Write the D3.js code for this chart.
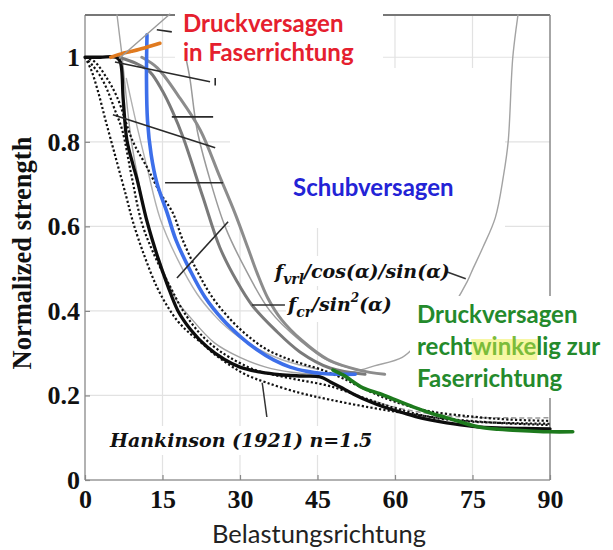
<!DOCTYPE html>
<html><head><meta charset="utf-8">
<script src="https://cdn.jsdelivr.net/npm/d3@7"></script>
<style>body{margin:0;background:#fff}</style>
</head><body>
<svg id="c" width="613" height="550"></svg>
<script>
// ---------- data (angle in degrees, normalized strength) ----------
const xTicks = [0, 15, 30, 45, 60, 75, 90];
const yTicks = [0, 0.2, 0.4, 0.6, 0.8, 1];
const yTickLabels = ["0", "0.2", "0.4", "0.6", "0.8", "1"];

const fvrlCurve = [[6.2,1.1],[6.7,1.05],[7.2,1.0],[8.2,0.88],[9,0.8],[10,0.73],[12,0.61],[15,0.5],[18,0.42],[20,0.39],[25,0.325],[30,0.29],[35,0.267],[40,0.255],[45,0.25],[50,0.253],[52.6,0.258],[56,0.27],[61.4,0.29],[65,0.33],[70,0.39],[74,0.47],[75.1,0.5],[77,0.55],[79.4,0.62],[81,0.72],[81.9,0.8],[82.8,1.0],[83.8,1.1]];
const fcrCurveA = [[6.5,1.0],[10,0.985],[12.6,0.965],[15,0.92],[17,0.87],[19,0.81],[22.8,0.67],[26.1,0.55],[29.4,0.47],[32.3,0.414],[36.8,0.355],[41.6,0.303],[47.4,0.265],[54.2,0.25]];
const fcrCurveB = [[11,1.0],[14,0.975],[18,0.91],[22.3,0.828],[26,0.72],[29,0.632],[31.5,0.55],[33.3,0.49],[35.4,0.43],[38,0.38],[42,0.33],[47,0.285],[53,0.26],[58,0.25]];
const thinGrayA = [[19.5,1.0],[20.3,0.95],[21.7,0.828],[24.2,0.71],[27.1,0.6],[31,0.5],[35.8,0.4],[41.6,0.33],[47.4,0.28],[53.2,0.26]];
const thinGrayB = [[8,0.95],[10,0.84],[12,0.74],[14.5,0.62],[18,0.52],[21.7,0.44],[25,0.39],[27.5,0.36],[32,0.32],[38,0.285],[45,0.262]];
const hankinsonA = [[0,1],[1.2,0.97],[2.5,0.92],[4,0.85],[6,0.76],[8,0.67],[9.3,0.61],[11.5,0.53],[13.9,0.457],[16,0.41],[18,0.375],[20,0.35],[22.5,0.325],[24.8,0.3],[28,0.272],[31,0.25],[35.2,0.23],[41.6,0.206],[47.4,0.19],[55,0.172],[62,0.158],[70,0.145],[80,0.135],[90,0.13]];
const hankinsonB = [[0,1],[1.5,0.98],[3,0.955],[4.3,0.923],[5.8,0.875],[7.2,0.828],[9,0.72],[11,0.608],[13.5,0.53],[16.5,0.457],[19,0.4],[22,0.35],[25,0.315],[28,0.29],[33,0.26],[40,0.24],[47.4,0.222],[55,0.19],[60,0.17],[66.8,0.149],[75,0.138],[90,0.133]];
const hankinsonC = [[0,1],[1.9,0.989],[4,0.955],[6.2,0.906],[9.3,0.8],[12,0.74],[14.5,0.68],[17,0.632],[18.9,0.568],[21.6,0.497],[24.6,0.433],[28.2,0.379],[31.6,0.34],[35,0.31],[38.5,0.29],[42,0.275],[45.5,0.262],[50,0.24],[55,0.21],[60,0.185],[67,0.162],[75,0.15],[82,0.143],[90,0.14]];
const grayDashed = [[55,0.19],[60,0.172],[65,0.16],[70,0.152],[75,0.148],[82,0.147],[90,0.147]];
const modelCurve = [[0,1],[3,1],[6,1],[6.8,0.99],[7.4,0.9],[8.1,0.805],[9.3,0.745],[10.1,0.71],[12,0.612],[14,0.53],[16,0.46],[18,0.4],[20.5,0.355],[23.6,0.315],[27,0.285],[30,0.267],[34,0.255],[37.7,0.249],[42,0.246],[45.5,0.244],[47.5,0.232],[49.4,0.22],[52,0.203],[55.2,0.185],[58,0.172],[61.5,0.159],[64,0.15],[66.8,0.142],[70,0.135],[75,0.127],[80,0.123],[85,0.122],[90,0.121]];
const shearCurve = [[12.0,1.053],[11.9,0.95],[12.1,0.85],[12.8,0.77],[13.9,0.703],[15.9,0.632],[17.6,0.568],[20.3,0.497],[23.2,0.433],[26.7,0.379],[30,0.34],[33.3,0.308],[36.5,0.284],[39.7,0.267],[43,0.257],[46,0.252],[49,0.25],[52.3,0.25]];
const compParallel = [[5.0,1.0],[7,1.008],[9,1.014],[11.5,1.022],[14.5,1.033]];
const compPerp = [[48,0.26],[50,0.248],[53.8,0.218],[57.1,0.204],[60,0.19],[63.5,0.173],[67,0.158],[70.1,0.147],[73,0.136],[76.5,0.125],[80,0.12],[82.8,0.118],[86,0.116],[90,0.114],[94.4,0.114]];
// straight hatch segments [a1, v1, a2, v2]
const hatchDark = [[5.8,0.989,24.2,0.942],[5.4,0.864,25.2,0.786],[16.8,0.859,24.8,0.859],[15.5,0.703,26.7,0.703],[17.8,0.478,27.7,0.611],[13.9,1.065,16.8,1.06],[25.2,0.951,25.2,0.933]];
const hatchGray = [[6.6,0.997,16.5,1.103]];
const leaders = [[34.3,0.23,35.2,0.149],[32.3,0.414,38.7,0.414],[70.1,0.492,73.7,0.476]];

// ---------- layout ----------
const svg = d3.select("#c");
const x = d3.scaleLinear().domain([0, 90]).range([85, 550]);
const y = d3.scaleLinear().domain([0, 1.1]).range([480, 15]);
const line = d3.line().x(d => x(d[0])).y(d => y(d[1])).curve(d3.curveCatmullRom.alpha(0.5));

// grid
const grid = svg.append("g").attr("stroke", "#e2e2e2").attr("stroke-width", 1.2);
grid.selectAll(".gv").data(xTicks.slice(1, -1)).join("line")
  .attr("x1", d => x(d)).attr("x2", d => x(d)).attr("y1", y(0)).attr("y2", y(1.1));
grid.selectAll(".gh").data(yTicks.slice(1)).join("line")
  .attr("y1", d => y(d)).attr("y2", d => y(d)).attr("x1", x(0)).attr("x2", x(90));

// frame
svg.append("line").attr("x1", x(0)).attr("x2", x(0)).attr("y1", y(0)).attr("y2", y(1.1)).attr("stroke", "#999").attr("stroke-width", 1.5);
svg.append("line").attr("x1", x(0)).attr("x2", x(90)).attr("y1", y(0)).attr("y2", y(0)).attr("stroke", "#999").attr("stroke-width", 1.5);
svg.append("line").attr("x1", x(0)).attr("x2", x(90)).attr("y1", y(1.1)).attr("y2", y(1.1)).attr("stroke", "#777").attr("stroke-width", 2);
svg.append("line").attr("x1", x(90)).attr("x2", x(90)).attr("y1", y(0)).attr("y2", y(1.1)).attr("stroke", "#888").attr("stroke-width", 1.5);

// axes (inward ticks)
const xAxis = svg.append("g").attr("transform", `translate(0,${y(0)})`)
  .call(d3.axisBottom(x).tickValues(xTicks).tickSizeInner(-5).tickSizeOuter(0).tickPadding(10).tickFormat(d3.format("d")));
const yAxis = svg.append("g").attr("transform", `translate(${x(0)},0)`)
  .call(d3.axisLeft(y).tickValues(yTicks).tickSizeInner(-5).tickSizeOuter(0).tickPadding(5).tickFormat((d, i) => yTickLabels[i]));
[xAxis, yAxis].forEach(g => {
  g.select(".domain").remove();
  g.selectAll(".tick line").attr("stroke", "#888").attr("stroke-width", 1.2);
  g.selectAll(".tick text").attr("font-family", "'Liberation Serif', serif").attr("font-weight", "bold")
    .attr("font-size", 26).attr("fill", "#111");
});

// white masks (erased background areas of the original figure)
const masks = [[175,0,208,68],[230,68,275,160],[322,228,168,72],[322,300,88,100]];
svg.append("g").selectAll("rect").data(masks).join("rect")
  .attr("x", d => d[0]).attr("y", d => d[1]).attr("width", d => d[2]).attr("height", d => d[3]).attr("fill", "#fff");

// curves
const curves = [
  {d: fvrlCurve, c: "#a3a3a3", w: 1.4},
  {d: thinGrayB, c: "#b0b0b0", w: 1.4},
  {d: thinGrayA, c: "#9a9a9a", w: 1.5},
  {d: fcrCurveB, c: "#8c8c8c", w: 3},
  {d: fcrCurveA, c: "#7a7a7a", w: 3},
  {d: grayDashed, c: "#999", w: 1.5, dash: "5,3"},
  {d: hankinsonA, c: "#111", w: 2.2, dash: "2.2,2.2"},
  {d: hankinsonB, c: "#111", w: 2.2, dash: "2.2,2.2"},
  {d: hankinsonC, c: "#111", w: 2.2, dash: "2.2,2.2"},
  {d: modelCurve, c: "#0d0d0d", w: 3.3},
  {d: shearCurve, c: "#3d6fea", w: 3.6},
  {d: compParallel, c: "#e07a1f", w: 3.6},
  {d: compPerp, c: "#1d7a1d", w: 3.6}
];
svg.append("g").attr("fill", "none").selectAll("path").data(curves).join("path")
  .attr("d", d => line(d.d)).attr("stroke", d => d.c).attr("stroke-width", d => d.w)
  .attr("stroke-dasharray", d => d.dash || null).attr("stroke-linecap", d => d.dash ? "butt" : "round");

const seg = (g, data, col, w) => g.selectAll("line").data(data).join("line")
  .attr("x1", d => x(d[0])).attr("y1", d => y(d[1])).attr("x2", d => x(d[2])).attr("y2", d => y(d[3]))
  .attr("stroke", col).attr("stroke-width", w);
seg(svg.append("g"), hatchDark, "#2a2a2a", 1.6);
seg(svg.append("g"), hatchGray, "#9a9a9a", 1.4);
seg(svg.append("g"), leaders, "#333", 1.5);

// text masks
const textMasks = [[410,296,203,102],[268,256,178,30],[286,290,108,32],[106,426,266,29]];
svg.append("g").selectAll("rect").data(textMasks).join("rect")
  .attr("x", d => d[0]).attr("y", d => d[1]).attr("width", d => d[2]).attr("height", d => d[3]).attr("fill", "#fff");

// axis titles
svg.append("text").attr("transform", "translate(31,253) rotate(-90)").attr("text-anchor", "middle")
  .attr("font-family", "'Liberation Serif', serif").attr("font-weight", "bold").attr("font-size", 26.5).attr("fill", "#111")
  .text("Normalized strength");
svg.append("text").attr("x", 319).attr("y", 543).attr("text-anchor", "middle")
  .attr("font-family", "Lato, sans-serif").attr("font-size", 25.5).attr("fill", "#222")
  .text("Belastungsrichtung");

// annotations
const sans = "Lato, sans-serif";
function label(xp, yp, txt, col) {
  return svg.append("text").attr("x", xp).attr("y", yp).attr("font-family", sans).attr("font-weight", "bold")
    .attr("font-size", 24).attr("fill", col).text(txt);
}
label(183, 32, "Druckversagen", "#e5202e");
label(183, 61, "in Faserrichtung", "#e5202e");
label(293, 196, "Schubversagen", "#2323d6");
label(417, 323, "Druckversagen", "#248a2c");
const rw = svg.append("text").attr("x", 417).attr("y", 355).attr("font-family", sans).attr("font-weight", "bold")
  .attr("font-size", 24).attr("fill", "#248a2c");
rw.append("tspan").text("recht");
rw.append("tspan").attr("fill", "#7cbc3a").text("winke");
rw.append("tspan").text("lig zur");
label(417, 387, "Faserrichtung", "#248a2c");
// highlight behind "winke"
const node = rw.node();
const s0 = node.getStartPositionOfChar(5).x, s1 = node.getEndPositionOfChar(9).x;
svg.insert("rect", () => node).attr("x", s0 - 1).attr("y", 339).attr("width", s1 - s0 + 2).attr("height", 21).attr("fill", "#f7f7a4");

const mathFont = "'DejaVu Serif', serif";
const m1 = svg.append("text").attr("x", 275).attr("y", 278).attr("font-family", mathFont).attr("font-style", "italic")
  .attr("font-weight", "bold").attr("font-size", 19).attr("fill", "#111");
m1.append("tspan").text("f");
m1.append("tspan").attr("font-size", 14).attr("dy", 6).text("vrl");
m1.append("tspan").attr("dy", -6).text("/cos(α)/sin(α)");
const m2 = svg.append("text").attr("x", 288).attr("y", 311).attr("font-family", mathFont).attr("font-style", "italic")
  .attr("font-weight", "bold").attr("font-size", 19).attr("fill", "#111");
m2.append("tspan").text("f");
m2.append("tspan").attr("font-size", 14).attr("dy", 6).text("cr");
m2.append("tspan").attr("dy", -6).text("/sin");
m2.append("tspan").attr("font-size", 12).attr("dy", -9).text("2");
m2.append("tspan").attr("dy", 9).text("(α)");
svg.append("text").attr("x", 110).attr("y", 447).attr("font-family", mathFont).attr("font-style", "italic")
  .attr("font-weight", "bold").attr("font-size", 19).attr("fill", "#111").text("Hankinson (1921) n=1.5");
</script>
</body></html>
